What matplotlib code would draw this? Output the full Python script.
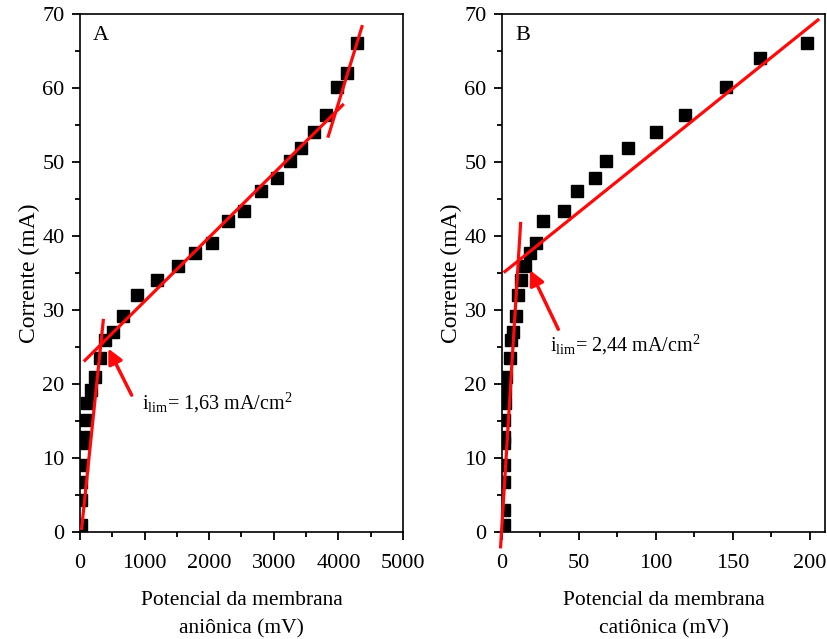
import numpy as np
import matplotlib
matplotlib.use("Agg")
import matplotlib.pyplot as plt
from matplotlib.ticker import MultipleLocator

plt.rcParams['font.family'] = ['Liberation Serif', 'DejaVu Serif']
plt.rcParams['mathtext.fontset'] = 'custom'
plt.rcParams['mathtext.rm'] = 'Liberation Serif'
plt.rcParams['mathtext.it'] = 'Liberation Serif:italic'

# --- dados: membrana aniônica (A) ---
pot_a = [10, 15, 20, 26, 45, 52, 77, 114, 165, 232, 310, 392, 506, 671, 887,
         1197, 1512, 1775, 2048, 2296, 2534, 2807, 3054, 3256, 3426, 3617,
         3808, 3983, 4138, 4293]
cor_a = [0.9, 4.3, 6.8, 9.1, 12.0, 12.9, 15.1, 17.4, 19.2, 21.0, 23.5, 25.9, 27.0,
         29.2, 32.1, 34.0, 36.0, 37.7, 39.1, 42.1, 43.4, 46.1, 47.8, 50.1, 51.9,
         54.0, 56.3, 60.1, 62.1, 66.1]
# retas de ajuste (x0, x1, y0, y1)
fit_a = [(26, 361, 0.5, 28.6), (77, 4066, 23.2, 57.7), (3844, 4365, 53.5, 68.3)]
arrow_a = ((438, 24.8), (800, 18.5))
label_a = (955, 17.4, r'i$_{\mathrm{lim}}$= 1,63 mA/cm$^{2}$')

# --- dados: membrana catiônica (B) ---
pot_b = [1.5, 1.2, 1.0, 1.0, 1.2, 1.3, 1.5, 1.8, 2.2, 2.6, 5.2, 6.0, 6.9, 9.1,
         10.6, 12.1, 15.1, 18.4, 22.1, 26.8, 40.5, 48.7, 60.6, 67.3, 82.0, 100.2,
         119.0, 145.9, 167.5, 198.5]
cor_b = [0.9, 3.0, 6.8, 9.1, 12.0, 12.9, 15.1, 17.4, 19.2, 21.0, 23.5, 25.9, 27.0,
         29.2, 32.1, 34.0, 36.0, 37.7, 39.1, 42.1, 43.4, 46.1, 47.8, 50.1, 51.9,
         54.0, 56.3, 60.1, 64.1, 66.1]
fit_b = [(-0.9, 12.1, -2.0, 41.7), (1.9, 205.4, 35.2, 69.2)]
arrow_b = ((18.2, 35.4), (36.6, 27.4))
label_b = (31.2, 25.3, r'i$_{\mathrm{lim}}$= 2,44 mA/cm$^{2}$')

fig = plt.figure(figsize=(8.27, 6.39), dpi=100)
ax1 = fig.add_axes([0.0967, 0.1674, 0.3906, 0.8106])
ax2 = fig.add_axes([0.607, 0.1674, 0.3906, 0.8106])

panels = [
    (ax1, pot_a, cor_a, fit_a, arrow_a, label_a, 'A', (0, 5000), 1000,
     'Potencial da membrana\naniônica (mV)'),
    (ax2, pot_b, cor_b, fit_b, arrow_b, label_b, 'B', (0, 210), 50,
     'Potencial da membrana\ncatiônica (mV)'),
]

for ax, x, y, fits, arr, lab, letter, xlim, xstep, xlabel in panels:
    ax.plot(x, y, 's', color='black', ms=8.8, zorder=2)
    for x0, x1, y0, y1 in fits:
        ax.plot([x0, x1], [y0, y1], color='#ff0a0a', lw=2.3, zorder=3,
                clip_on=False)
    ax.annotate('', xy=arr[0], xytext=arr[1],
                arrowprops=dict(arrowstyle='-|>', color='#ff0a0a', lw=2.5,
                                mutation_scale=22, shrinkA=0, shrinkB=0))
    ax.text(lab[0], lab[1], lab[2], fontsize=14.5, va='center', ha='left')
    ax.text(0.04, 0.958, letter, transform=ax.transAxes, fontsize=16,
            va='center', ha='left')
    ax.set_xlim(*xlim)
    ax.set_ylim(0, 70)
    ax.xaxis.set_major_locator(MultipleLocator(xstep))
    ax.xaxis.set_minor_locator(MultipleLocator(xstep / 2))
    ax.yaxis.set_major_locator(MultipleLocator(10))
    ax.yaxis.set_minor_locator(MultipleLocator(5))
    ax.tick_params(which='both', direction='out', labelsize=16, width=1.3)
    ax.tick_params(axis='x', which='major', pad=10)
    ax.tick_params(axis='y', which='major', pad=5)
    ax.tick_params(which='major', length=6)
    ax.tick_params(which='minor', length=3.5)
    for s in ax.spines.values():
        s.set_linewidth(1.2)
    ax.set_xlabel(xlabel, fontsize=15.5, labelpad=13, linespacing=1.6)
    ax.set_ylabel('Corrente (mA)', fontsize=17, labelpad=2)

fig.savefig('out.png', dpi=100)
